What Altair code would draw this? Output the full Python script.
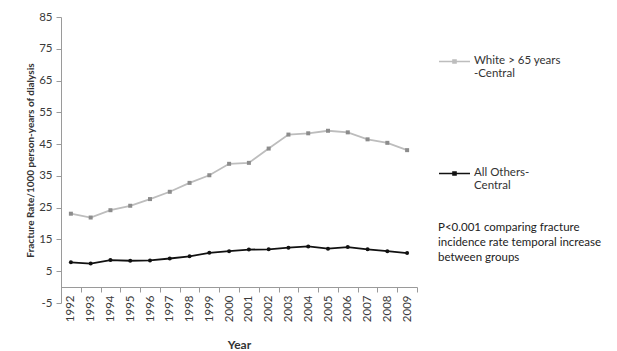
import altair as alt
import pandas as pd

years = [str(y) for y in range(1992, 2010)]
white = [23.1, 21.9, 24.2, 25.6, 27.7, 30.0, 32.8, 35.2, 38.8, 39.1, 43.6, 48.0, 48.4, 49.2, 48.7, 46.5, 45.4, 43.1]
others = [7.8, 7.4, 8.5, 8.3, 8.4, 9.0, 9.7, 10.8, 11.3, 11.8, 11.9, 12.4, 12.8, 12.1, 12.6, 11.9, 11.3, 10.7]
series = ["White > 65 years -Central", "All Others-Central"]
y_ticks = [-5, 5, 15, 25, 35, 45, 55, 65, 75, 85]
note = ["P<0.001 comparing fracture", "incidence rate temporal increase", "between groups"]

rows = []
for i, yr in enumerate(years):
    rows.append({"Year": yr, "Rate": white[i], "Series": series[0]})
    rows.append({"Year": yr, "Rate": others[i], "Series": series[1]})
df = pd.DataFrame(rows)

FONT = "Lato"
H = 286
W = 356

x_enc = alt.X("Year:N", sort=years,
              scale=alt.Scale(paddingInner=0, paddingOuter=0),
              axis=alt.Axis(title="Year", labelAngle=270, labelAlign="right", labelBaseline="middle",
                            tickBand="extent", offset=-round(H * 5 / 90), tickSize=5,
                            domainColor="#9a9a9a", tickColor="#9a9a9a", labelColor="#3a3a3a",
                            labelFontSize=11.5, labelPadding=3, titleFontSize=12, titleFontWeight="bold",
                            titleColor="#333333", titlePadding=18, labelFont=FONT, titleFont=FONT))
y_enc = alt.Y("Rate:Q", scale=alt.Scale(domain=[-5, 85], nice=False, zero=False),
              axis=alt.Axis(values=y_ticks, labelExpr="'' + datum.value",
                            title="Fracture Rate/1000 person-years of dialysis",
                            grid=False, tickSize=5, domainColor="#9a9a9a", tickColor="#9a9a9a",
                            labelColor="#3a3a3a", labelFontSize=11.5, labelPadding=4,
                            titleFontSize=10, titleFontWeight="bold", titleColor="#333333",
                            titlePadding=3, labelFont=FONT, titleFont=FONT))
color_scale = alt.Scale(domain=series, range=["#bdbdbd", "#111111"])

line = alt.Chart(df).mark_line(strokeWidth=1.8).encode(
    x=x_enc, y=y_enc,
    color=alt.Color("Series:N", scale=color_scale, sort=series,
                    legend=alt.Legend(
                        orient="none", legendX=377, legendY=30, direction="vertical",
                        symbolType="M-1,-0.13H1M-0.1,-0.23H0.1V-0.03H-0.1Z", symbolSize=961,
                        symbolStrokeWidth=1.5, rowPadding=79,
                        labelExpr="datum.label == 'All Others-Central' ? ['All Others-', 'Central'] : ['White > 65 years', '-Central']",
                        labelFontSize=11.5, labelColor="#333333", labelFont=FONT,
                        labelBaseline="alphabetic", labelOffset=3, labelLimit=300,
                        title=note, titleOrient="bottom", titleFontWeight="normal", titleFontSize=11.5,
                        titleColor="#222222", titleFont=FONT, titleLimit=400, titlePadding=30,
                        titleAnchor="start", titleLineHeight=15)),
)
points = alt.Chart(df).mark_point(filled=True, size=16, opacity=1).encode(
    x=x_enc, y=y_enc,
    color=alt.Color("Series:N", scale=alt.Scale(domain=series, range=["#8c8c8c", "#111111"]), legend=None),
    shape=alt.Shape("Series:N", scale=alt.Scale(domain=series, range=["square", "circle"]), legend=None),
)

chart = alt.layer(line, points).resolve_scale(color="independent").properties(
    width=W, height=H,
    autosize=alt.AutoSizeParams(type="none"),
    padding={"left": 53, "top": 9, "right": 190, "bottom": 52},
).configure_view(stroke=None)

chart.save("out.html", embed_options={"renderer": "svg", "actions": False})
